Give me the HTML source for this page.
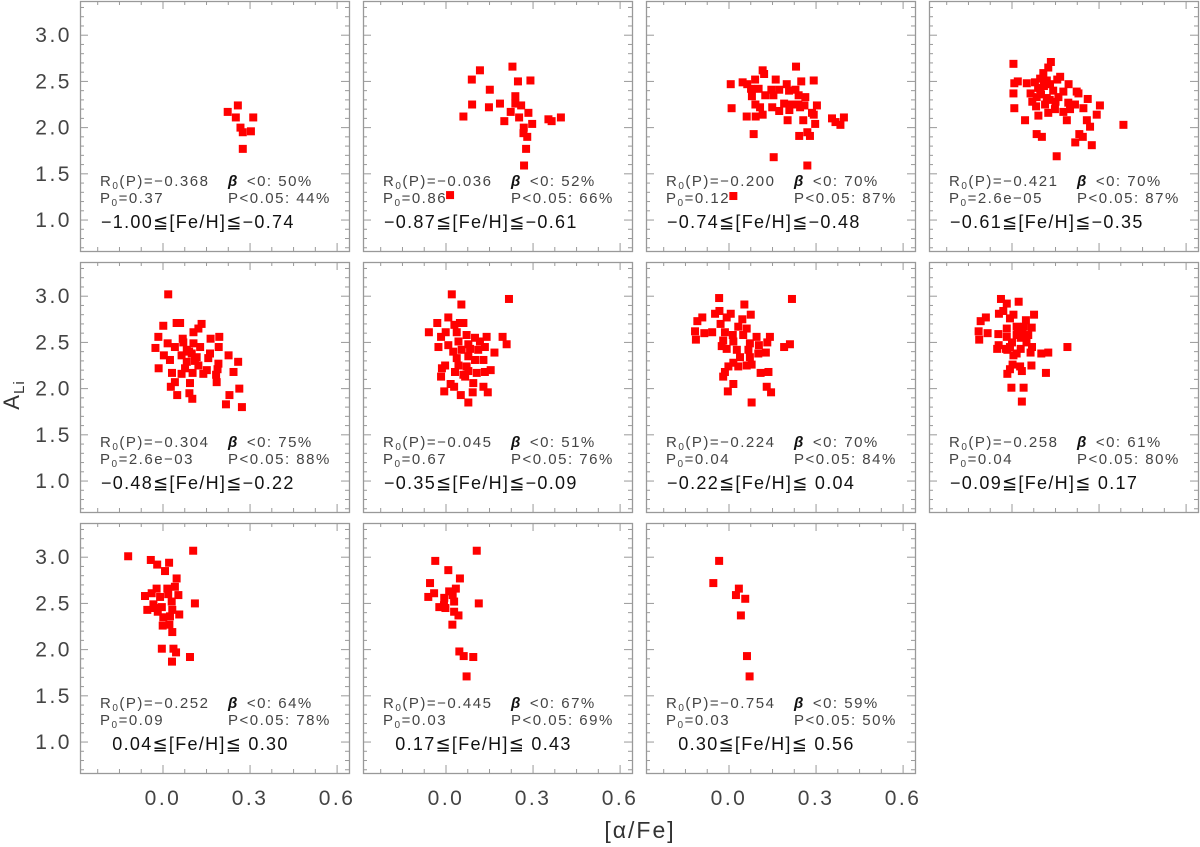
<!DOCTYPE html>
<html><head><meta charset="utf-8">
<style>
html,body{margin:0;padding:0;background:#fff;}
svg{display:block;font-family:"Liberation Sans","DejaVu Sans",sans-serif;}
</style></head>
<body>
<svg id="chart" width="1200" height="847" viewBox="0 0 1200 847" xmlns="http://www.w3.org/2000/svg">
<text x="0" y="0" transform="translate(19,395) rotate(-90)" font-size="22" fill="#333" text-anchor="middle" letter-spacing="1">A<tspan font-size="15" dy="5">Li</tspan></text>
<text x="640" y="838" font-size="23" fill="#333" text-anchor="middle" letter-spacing="2">[α/Fe]</text>
</svg>
<script>
const p1x=[0.223,0.258,0.251,0.311,0.267,0.275,0.303,0.275];
const p1y=[2.17,2.24,2.11,2.11,2.00,1.95,1.96,1.77];
const p2x=[0.117,0.229,0.089,0.248,0.291,0.151,0.239,0.090,0.148,0.186,0.239,0.259,0.223,0.284,0.060,0.252,0.201,0.297,0.353,0.364,0.396,0.268,0.267,0.280,0.276,0.269,0.014];
const p2y=[2.62,2.66,2.52,2.50,2.51,2.41,2.34,2.25,2.22,2.26,2.26,2.24,2.17,2.16,2.12,2.11,2.07,2.04,2.09,2.07,2.11,2.00,1.94,1.90,1.77,1.59,1.27];
const p3x=[0.231,0.116,0.121,0.006,0.047,0.090,0.161,0.063,0.199,0.249,0.292,0.076,0.102,0.146,0.173,0.207,0.229,0.079,0.125,0.153,0.240,0.263,0.091,0.190,0.216,0.239,0.260,0.303,0.009,0.107,0.149,0.173,0.208,0.245,0.286,0.116,0.061,0.092,0.202,0.256,0.292,0.355,0.396,0.367,0.384,0.297,0.085,0.242,0.270,0.279,0.154,0.270,0.015];
const p3y=[2.66,2.62,2.58,2.47,2.49,2.52,2.52,2.47,2.47,2.50,2.51,2.42,2.42,2.41,2.41,2.40,2.41,2.34,2.35,2.35,2.35,2.33,2.25,2.26,2.25,2.25,2.24,2.24,2.21,2.22,2.22,2.18,2.19,2.22,2.16,2.14,2.12,2.12,2.08,2.08,2.14,2.10,2.11,2.06,2.03,2.04,1.93,1.91,1.95,1.91,1.68,1.59,1.26];
const p4x=[0.005,0.134,0.125,0.108,0.097,0.008,0.020,0.051,0.079,0.120,0.166,0.156,0.131,0.195,0.005,0.064,0.097,0.142,0.177,0.223,0.229,0.085,0.120,0.160,0.261,0.194,0.217,0.008,0.083,0.114,0.148,0.177,0.200,0.246,0.303,0.091,0.125,0.045,0.189,0.292,0.258,0.384,0.269,0.085,0.103,0.232,0.244,0.218,0.275,0.154,0.100,0.110,0.130,0.150,0.090,0.070];
const p4y=[2.69,2.71,2.65,2.59,2.53,2.48,2.50,2.48,2.49,2.51,2.55,2.52,2.47,2.47,2.37,2.37,2.42,2.40,2.39,2.39,2.37,2.33,2.32,2.33,2.31,2.27,2.25,2.21,2.23,2.25,2.20,2.17,2.20,2.21,2.24,2.13,2.16,2.08,2.08,2.14,2.08,2.03,2.01,1.93,1.90,1.93,1.90,1.84,1.81,1.69,2.36,2.45,2.30,2.28,2.43,2.28];
const p5x=[0.018,0.001,0.047,0.059,0.133,-0.016,-0.026,0.016,0.003,0.068,0.105,0.122,0.164,0.194,0.192,0.041,0.082,0.105,0.128,0.064,0.099,0.116,0.162,0.024,0.082,0.122,0.156,0.226,0.259,-0.015,0.031,0.064,0.076,0.102,0.139,0.151,0.191,0.188,0.183,0.185,0.243,0.041,0.027,0.093,0.049,0.091,0.101,0.263,0.229,0.217,0.272,0.090,0.110,0.070];
const p5y=[3.02,2.68,2.71,2.71,2.70,2.56,2.44,2.49,2.36,2.54,2.61,2.65,2.54,2.56,2.45,2.45,2.42,2.49,2.45,2.36,2.38,2.34,2.38,2.31,2.29,2.25,2.33,2.36,2.29,2.22,2.17,2.16,2.22,2.17,2.16,2.20,2.27,2.21,2.15,2.07,2.18,2.07,2.02,2.06,1.93,1.95,1.89,2.00,1.93,1.83,1.80,2.40,2.30,2.50];
const p6x=[0.020,0.053,0.217,0.008,-0.030,-0.059,0.048,0.060,0.029,-0.001,-0.017,0.037,0.071,0.100,0.140,0.195,0.209,-0.026,0.008,0.043,0.077,0.117,0.134,0.025,0.054,0.083,0.111,0.167,0.037,0.077,0.100,0.129,-0.003,-0.014,0.043,0.071,0.031,0.060,0.077,0.106,0.134,0.154,-0.017,0.066,0.016,0.028,0.094,0.129,-0.006,0.051,0.092,0.144,0.077];
const p6y=[3.02,2.91,2.97,2.77,2.71,2.61,2.71,2.71,2.69,2.61,2.56,2.61,2.58,2.55,2.56,2.56,2.48,2.45,2.47,2.51,2.48,2.51,2.45,2.40,2.42,2.43,2.42,2.39,2.33,2.35,2.31,2.31,2.25,2.22,2.25,2.24,2.18,2.15,2.19,2.17,2.18,2.20,2.13,2.13,2.05,2.02,2.06,2.02,1.97,1.93,1.96,1.96,1.85];
const p7x=[-0.034,0.053,0.217,-0.092,-0.109,-0.048,-0.033,0.006,-0.008,0.046,0.075,-0.029,-0.117,-0.085,-0.058,-0.114,-0.014,0.032,0.061,0.013,0.049,0.095,0.141,-0.020,0.015,0.072,0.132,-0.025,-0.008,0.103,0.210,0.190,0.027,0.067,0.038,0.072,0.101,0.127,0.078,0.015,0.032,0.061,-0.002,-0.014,-0.020,0.109,0.136,0.015,0.130,-0.004,0.145,0.078];
const p7y=[2.98,2.91,2.97,2.77,2.73,2.81,2.84,2.81,2.77,2.75,2.80,2.70,2.62,2.60,2.61,2.53,2.61,2.67,2.65,2.58,2.58,2.56,2.56,2.52,2.51,2.49,2.50,2.46,2.43,2.47,2.48,2.45,2.42,2.42,2.34,2.34,2.38,2.39,2.26,2.28,2.24,2.25,2.24,2.18,2.13,2.17,2.18,2.05,2.02,1.97,1.96,1.85];
const p8x=[-0.038,-0.018,0.023,-0.045,-0.030,0.005,-0.007,0.076,-0.108,-0.090,-0.115,-0.113,-0.084,-0.047,-0.018,0.016,0.048,0.041,0.068,0.056,0.016,-0.018,-0.046,-0.051,-0.021,-0.007,0.030,0.069,0.064,0.016,0.005,0.101,0.125,0.191,-0.016,0.002,-0.016,-0.007,0.028,0.034,0.067,0.117,-0.002,0.040,0.034,0.036,0.020,0.030,0.050,0.000];
const p8y=[2.97,2.92,2.94,2.81,2.84,2.80,2.76,2.80,2.73,2.77,2.62,2.53,2.60,2.59,2.65,2.67,2.74,2.67,2.66,2.58,2.58,2.56,2.47,2.43,2.43,2.45,2.43,2.45,2.39,2.38,2.36,2.38,2.39,2.45,2.42,2.26,2.16,2.21,2.24,2.19,2.25,2.17,2.01,2.01,1.86,2.61,2.62,2.55,2.50,2.50];
const p9x=[-0.120,0.104,-0.042,-0.020,0.021,0.007,0.047,-0.022,0.015,0.041,-0.062,-0.039,-0.010,0.018,0.053,0.030,0.110,-0.033,-0.054,-0.028,-0.004,-0.018,0.032,0.056,0.001,0.024,-0.001,0.022,0.032,-0.004,0.036,0.045,0.093,0.031];
const p9y=[3.01,3.07,2.97,2.92,2.94,2.85,2.77,2.66,2.66,2.68,2.58,2.61,2.57,2.60,2.59,2.52,2.50,2.49,2.43,2.45,2.46,2.41,2.43,2.38,2.35,2.36,2.26,2.27,2.19,2.01,2.01,1.97,1.92,1.87];
const p10x=[0.106,-0.037,0.008,-0.055,0.048,-0.041,-0.061,0.011,0.034,0.023,-0.006,0.028,0.113,-0.023,-0.007,-0.002,0.028,0.043,0.022,0.046,0.061,0.094,0.071];
const p10y=[3.07,2.96,2.86,2.72,2.77,2.61,2.57,2.63,2.66,2.59,2.56,2.52,2.50,2.46,2.48,2.45,2.41,2.37,2.27,1.98,1.93,1.92,1.71];
const p11x=[-0.034,-0.054,0.034,0.024,0.056,0.041,0.062,0.071];
const p11y=[2.96,2.72,2.66,2.59,2.55,2.37,1.93,1.71];
const rStats=["−0.368","−0.036","−0.200","−0.421","−0.304","−0.045","−0.224","−0.258","−0.252","−0.445","−0.754"];
const pStats=["0.37","0.86","0.12","2.6e−05","2.6e−03","0.67","0.04","0.04","0.09","0.03","0.03"];
const betaStats=["50%","52%","70%","70%","75%","51%","70%","61%","64%","67%","59%"];
const sigStats=["44%","66%","87%","87%","88%","76%","84%","80%","78%","69%","50%"];
const feLabels=["−1.00≦[Fe/H]≦−0.74","−0.87≦[Fe/H]≦−0.61","−0.74≦[Fe/H]≦−0.48","−0.61≦[Fe/H]≦−0.35","−0.48≦[Fe/H]≦−0.22","−0.35≦[Fe/H]≦−0.09","−0.22≦[Fe/H]≦ 0.04","−0.09≦[Fe/H]≦ 0.17"," 0.04≦[Fe/H]≦ 0.30"," 0.17≦[Fe/H]≦ 0.43"," 0.30≦[Fe/H]≦ 0.56"];
const yTicks=[1.0,1.5,2.0,2.5,3.0];
const xTicks=[0.0,0.3,0.6];

const NS="http://www.w3.org/2000/svg";
const svg=document.getElementById("chart");
const XS=[p1x,p2x,p3x,p4x,p5x,p6x,p7x,p8x,p9x,p10x,p11x];
const YS=[p1y,p2y,p3y,p4y,p5y,p6y,p7y,p8y,p9y,p10y,p11y];
const lefts=[80,363,646,929], tops=[1,262,523];
const W=269,H=250, xmin=-0.286, xmax=0.641, ymin=0.665, ymax=3.37;
function mk(tag,attrs,parent){const e=document.createElementNS(NS,tag);for(const k in attrs)e.setAttribute(k,attrs[k]);(parent||svg).appendChild(e);return e;}
for(let i=0;i<11;i++){
  const L=lefts[i%4], T=tops[Math.floor(i/4)];
  const sx=v=>L+(v-xmin)/(xmax-xmin)*W;
  const sy=v=>T+H-(v-ymin)/(ymax-ymin)*H;
  const g=mk("g",{});
  
  
  const fr=mk("rect",{x:L+0.5,y:T+0.5,width:W,height:H,fill:"none",stroke:"#999","stroke-width":1.3},g);
  
  
  for(let v=0.7;v<=3.35;v+=0.1){const y=sy(v);const maj=Math.abs(v*2-Math.round(v*2))<0.01;const len=maj?8:4;
    mk("line",{x1:L,x2:L+len,y1:y,y2:y,stroke:"#999"},g);mk("line",{x1:L+W,x2:L+W-len,y1:y,y2:y,stroke:"#999"},g);}
  for(let k=-3;k<=8;k++){const v=k*0.075;if(v<xmin||v>xmax)continue;const x=sx(v);const len=(k%4===0)?8:4;
    mk("line",{x1:x,x2:x,y1:T+H,y2:T+H-len,stroke:"#999"},g);mk("line",{x1:x,x2:x,y1:T,y2:T+len,stroke:"#999"},g);}
  if(i%4===0){for(const t of yTicks){const tl=mk("text",{x:L-8,y:sy(t)+7,"font-size":21,fill:"#444","text-anchor":"end","letter-spacing":2.5});tl.textContent=t.toFixed(1);
    
    }}
  if(i>=8){for(const t of xTicks){const tl=mk("text",{x:sx(t),y:805,"font-size":21,fill:"#444","text-anchor":"middle","letter-spacing":2.5});tl.textContent=t.toFixed(1);
    
    }}
  const xs=XS[i], ys=YS[i];
  for(let j=0;j<xs.length;j++){const r=mk("rect",{x:sx(xs[j])-4,y:sy(ys[j])-4,width:8,height:8,fill:"#ff0000"},g);
    
    }
  const t1=mk("text",{x:L+20,y:T+185,"font-size":15,fill:"#444","letter-spacing":1.5},g);
  t1.innerHTML='R<tspan font-size="10" dy="3">0</tspan><tspan dy="-3">(P)='+rStats[i]+'</tspan>';
  
  
  const t2=mk("text",{x:L+20,y:T+202,"font-size":15,fill:"#444","letter-spacing":1.5},g);
  t2.innerHTML='P<tspan font-size="10" dy="3">0</tspan><tspan dy="-3">='+pStats[i]+'</tspan>';
  
  
  const t3=mk("text",{x:L+148,y:T+185,"font-size":15,fill:"#444","letter-spacing":1.5},g);
  t3.innerHTML='<tspan font-weight="bold" font-style="italic" fill="#111">β</tspan><tspan dx="8">&lt;0: '+betaStats[i]+'</tspan>';
  
  
  const t4=mk("text",{x:L+148,y:T+202,"font-size":15,fill:"#444","letter-spacing":1.5},g);
  t4.textContent='P<0.05: '+sigStats[i];
  
  
  const t5=mk("text",{x:L+21,y:T+227,"font-size":18,fill:"#111","letter-spacing":1.3},g);
  t5.setAttribute("style","white-space:pre");
  t5.textContent=feLabels[i].replace(/^ /,"\u2007");
  
  
}
</script>
</body></html>
